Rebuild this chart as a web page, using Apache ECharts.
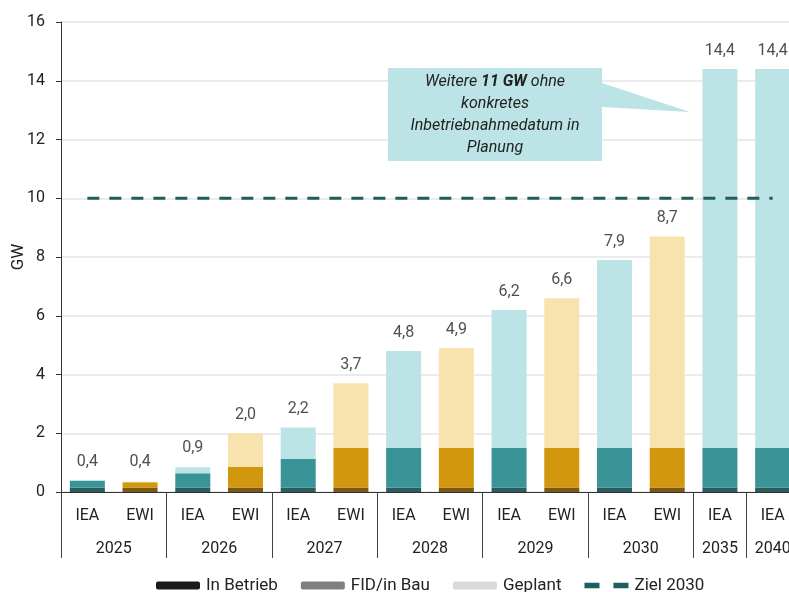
<!DOCTYPE html>
<html>
<head>
<meta charset="utf-8">
<script src="https://cdn.jsdelivr.net/npm/echarts@6/dist/echarts.min.js"></script>
<style>
  html, body { margin: 0; padding: 0; background: #fff; }
  #chart { width: 789px; height: 592px; }
</style>
</head>
<body>
<div id="chart"></div>
<script>
// Kategorien (Quelle je Balken) und Jahresgruppen
var kategorien = ['IEA', 'EWI', 'IEA', 'EWI', 'IEA', 'EWI', 'IEA', 'EWI', 'IEA', 'EWI', 'IEA', 'EWI', 'IEA', 'IEA'];
var jahre = ['2025', '2026', '2027', '2028', '2029', '2030', '2035', '2040'];
var jahrPosition = [1, 3, 5, 7, 9, 11, 12.5, 13.5];

// Werte in GW
var inBetrieb = [0.15, 0.15, 0.15, 0.15, 0.15, 0.15, 0.15, 0.15, 0.15, 0.15, 0.15, 0.15, 0.15, 0.15];
var fidInBau  = [0.23, 0.18, 0.49, 0.71, 0.97, 1.35, 1.35, 1.35, 1.35, 1.35, 1.35, 1.35, 1.35, 1.35];
var geplant   = [0.02, 0.02, 0.2, 1.14, 1.08, 2.2, 3.3, 3.4, 4.7, 5.1, 6.4, 7.2, 12.9, 12.9];
var summen    = [0.4, 0.4, 0.9, 2.0, 2.2, 3.7, 4.8, 4.9, 6.2, 6.6, 7.9, 8.7, 14.4, 14.4];
var ziel2030  = [10, 10, 10, 10, 10, 10, 10, 10, 10, 10, 10, 10, 10, 10];

var farben = {
  IEA: ['#2b5d5f', '#3a9397', '#bce4e6'],
  EWI: ['#7a5810', '#d2960f', '#f8e2ae']
};

function faerben(werte, stufe) {
  return werte.map(function(v, i){
    return { value: v, itemStyle: { color: farben[kategorien[i]][stufe] } };
  });
}
function komma(v) { return v.toFixed(1).replace('.', ','); }

var schrift = 'Roboto, sans-serif';
var mychart = echarts.init(document.getElementById('chart'));

var option = {
  animation: false,
  textStyle: { fontFamily: schrift },
  grid: { left: 61, right: -10, top: 22, bottom: 100, outerBoundsMode: 'none', containLabel: false },
  legend: {
    left: 156, top: 577, padding: 0,
    itemWidth: 44, itemHeight: 8, itemGap: 23,
    textStyle: { fontSize: 17, color: '#222', fontFamily: schrift, padding: [0, 0, 0, 1] },
    data: [
      'In Betrieb', 'FID/in Bau', 'Geplant',
      { name: 'Ziel 2030', icon: 'path://M0,0H14V5H0Z M27,0H41V5H27Z' }
    ]
  },
  xAxis: [
    {
      type: 'category',
      data: kategorien,
      axisLine: { lineStyle: { color: '#333', width: 1 } },
      axisTick: {
        show: true, length: 66,
        interval: function(i){ return (i % 2 === 0 && i <= 12) || i === 13; },
        lineStyle: { color: '#444' }
      },
      axisLabel: { interval: 0, margin: 16, fontSize: 16, color: '#222' }
    },
    {
      type: 'value', position: 'bottom',
      min: 0, max: 14, interval: 0.5,
      axisLine: { show: false }, axisTick: { show: false }, splitLine: { show: false },
      axisLabel: {
        margin: 49, fontSize: 16, color: '#222',
        formatter: function(v){
          var k = jahrPosition.indexOf(v);
          return k >= 0 ? jahre[k] : '';
        }
      }
    }
  ],
  yAxis: {
    type: 'value', min: 0, max: 16, interval: 2,
    name: 'GW', nameLocation: 'middle', nameGap: 34, nameMoveOverlap: false,
    nameTextStyle: { fontSize: 17, color: '#222' },
    axisLine: { show: true, lineStyle: { color: '#333' } },
    axisTick: { show: true, length: 5, lineStyle: { color: '#333' } },
    axisLabel: { fontSize: 16, color: '#222', margin: 16 },
    splitLine: { lineStyle: { color: '#e4e4e4', width: 1.5 } }
  },
  graphic: [
    {
      type: 'polygon', silent: true, z: 10,
      shape: { points: [[388, 68], [602, 68], [602, 83], [690, 112], [602, 107], [602, 161], [388, 161]] },
      style: { fill: '#bce4e6' }
    },
    {
      type: 'text', z: 11, x: 495, y: 71,
      style: {
        text: 'Weitere {b|11 GW} ohne\nkonkretes\nInbetriebnahmedatum in\nPlanung',
        align: 'center', fill: '#222', font: 'italic 16px Roboto', lineHeight: 22,
        rich: { b: { fontWeight: 'bold', fontStyle: 'italic', fontSize: 16, fontFamily: 'Roboto', fill: '#222' } }
      }
    }
  ],
  series: [
    { name: 'In Betrieb', type: 'bar', stack: 'gw', barWidth: 35, itemStyle: { color: '#1a1a1a' }, data: faerben(inBetrieb, 0) },
    { name: 'FID/in Bau', type: 'bar', stack: 'gw', barWidth: 35, itemStyle: { color: '#808080' }, data: faerben(fidInBau, 1) },
    { name: 'Geplant', type: 'bar', stack: 'gw', barWidth: 35, itemStyle: { color: '#d9d9d9' }, data: faerben(geplant, 2) },
    {
      name: 'Summe', type: 'scatter', symbolSize: 0, data: summen, silent: true,
      label: { show: true, position: 'top', distance: 10, fontSize: 16, color: '#222',
        formatter: function(p){ return komma(p.value); } }
    },
    {
      name: 'Ziel 2030', type: 'line', data: ziel2030, symbol: 'none', z: 5,
      itemStyle: { color: '#1f5e5e' },
      lineStyle: { color: '#1f5e5e', width: 3, type: [12, 10] }
    }
  ]
};
mychart.setOption(option);
</script>
</body>
</html>
